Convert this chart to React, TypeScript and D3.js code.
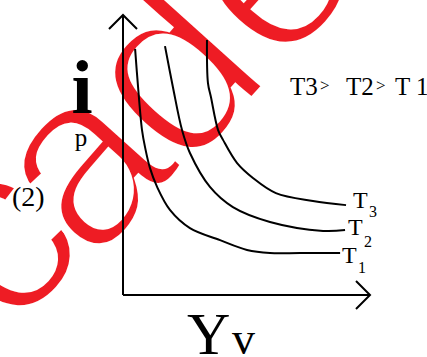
import React from 'react';
import * as d3 from 'd3';

// readings, in plot units (0..100 on both axes)
const curveNames = ['T1', 'T2', 'T3'];
const t1X = [4.9, 6.1, 7.7, 8.9, 10.9, 13.8, 19.0, 27.1, 39.3, 50.2, 59.5, 71.7, 87.9];
const t1Y = [87.9, 74.3, 58.9, 52.9, 45.4, 38.6, 30.4, 23.9, 19.6, 16.1, 15.0, 15.0, 15.0];
const t2X = [17.0, 20.2, 23.9, 27.1, 35.2, 44.5, 59.5, 81.0, 89.9];
const t2Y = [88.9, 74.3, 58.9, 50.7, 38.6, 31.4, 26.1, 22.9, 23.2];
const t3X = [34.0, 34.4, 35.6, 38.5, 40.5, 46.2, 52.6, 61.9, 76.9, 90.3];
const t3Y = [91.1, 75.7, 70.7, 58.9, 55.4, 47.1, 41.8, 36.4, 33.6, 32.1];

// watermark letters and where each one starts
const markLetters = ['c', 'a', 'd', 'e'];
const markX = [12, 92, 184, 279];
const markY = [338, 268, 177, 75];

const W = 427, H = 357;
const serif = 'Liberation Serif, Times New Roman, serif';
const sans = 'Liberation Sans, Arial, sans-serif';

export default function App() {
  const x = d3.scaleLinear().domain([0, 100]).range([123, 370]);
  const y = d3.scaleLinear().domain([0, 100]).range([295, 15]);

  const series = [
    t1X.map((v, i) => [v, t1Y[i]]),
    t2X.map((v, i) => [v, t2Y[i]]),
    t3X.map((v, i) => [v, t3Y[i]]),
  ];
  const line = d3.line<number[]>()
    .x(d => x(d[0]))
    .y(d => y(d[1]))
    .curve(d3.curveCatmullRom.alpha(0.5));

  const [x0, x1] = x.range();
  const [y0, y1] = y.range();
  const ah = 14;

  return (
    <svg width={W} height={H} style={{ position: 'absolute', left: 0, top: 0, background: '#fff' }}>
      {/* watermark, thinned with a white outline */}
      <g style={{ fontFamily: sans }} fontSize={250} fill="#ee1c24" stroke="#fff" strokeWidth={8}>
        {markLetters.map((c, i) => (
          <text key={c} x={markX[i]} y={markY[i]} transform={`rotate(-48 ${markX[i]} ${markY[i]})`}>{c}</text>
        ))}
      </g>

      {/* axes */}
      <g stroke="#000" strokeWidth={2} fill="none">
        <line x1={x0} y1={y0} x2={x0} y2={y1} />
        <line x1={x0} y1={y0} x2={x1} y2={y0} />
        <polyline points={`${x0 - ah},${y1 + ah} ${x0},${y1} ${x0 + ah},${y1 + ah}`} />
        <polyline points={`${x1 - ah},${y0 - ah} ${x1},${y0} ${x1 - ah},${y0 + ah}`} />
      </g>

      {series.map((s, i) => (
        <path key={curveNames[i]} d={line(s) || ''} stroke="#000" strokeWidth={2} fill="none" />
      ))}

      <g style={{ fontFamily: serif }} fill="#000">
        <text x={82} y={113} fontSize={76} fontWeight="bold" textAnchor="middle">i</text>
        <text x={81} y={146} fontSize={25} textAnchor="middle">p</text>
        <text x={12} y={206} fontSize={28}>(2)</text>

        <text y={95} fontSize={25}>
          <tspan x={290}>T3</tspan>
          <tspan x={320} fontSize={17} dy={-4}>&gt;</tspan>
          <tspan x={346} dy={4}>T2</tspan>
          <tspan x={376} fontSize={17} dy={-4}>&gt;</tspan>
          <tspan x={395} dy={4}>T 1</tspan>
        </text>

        <text x={353} y={208} fontSize={24}>T</text>
        <text x={369} y={217} fontSize={16}>3</text>
        <text x={348} y={235} fontSize={24}>T</text>
        <text x={364} y={247} fontSize={16}>2</text>
        <text x={342} y={263} fontSize={24}>T</text>
        <text x={358} y={273} fontSize={16}>1</text>

        <text y={354} fontSize={60}>
          <tspan x={187}>Y</tspan>
          <tspan x={232} fontSize={46}>v</tspan>
        </text>
      </g>
    </svg>
  );
}
